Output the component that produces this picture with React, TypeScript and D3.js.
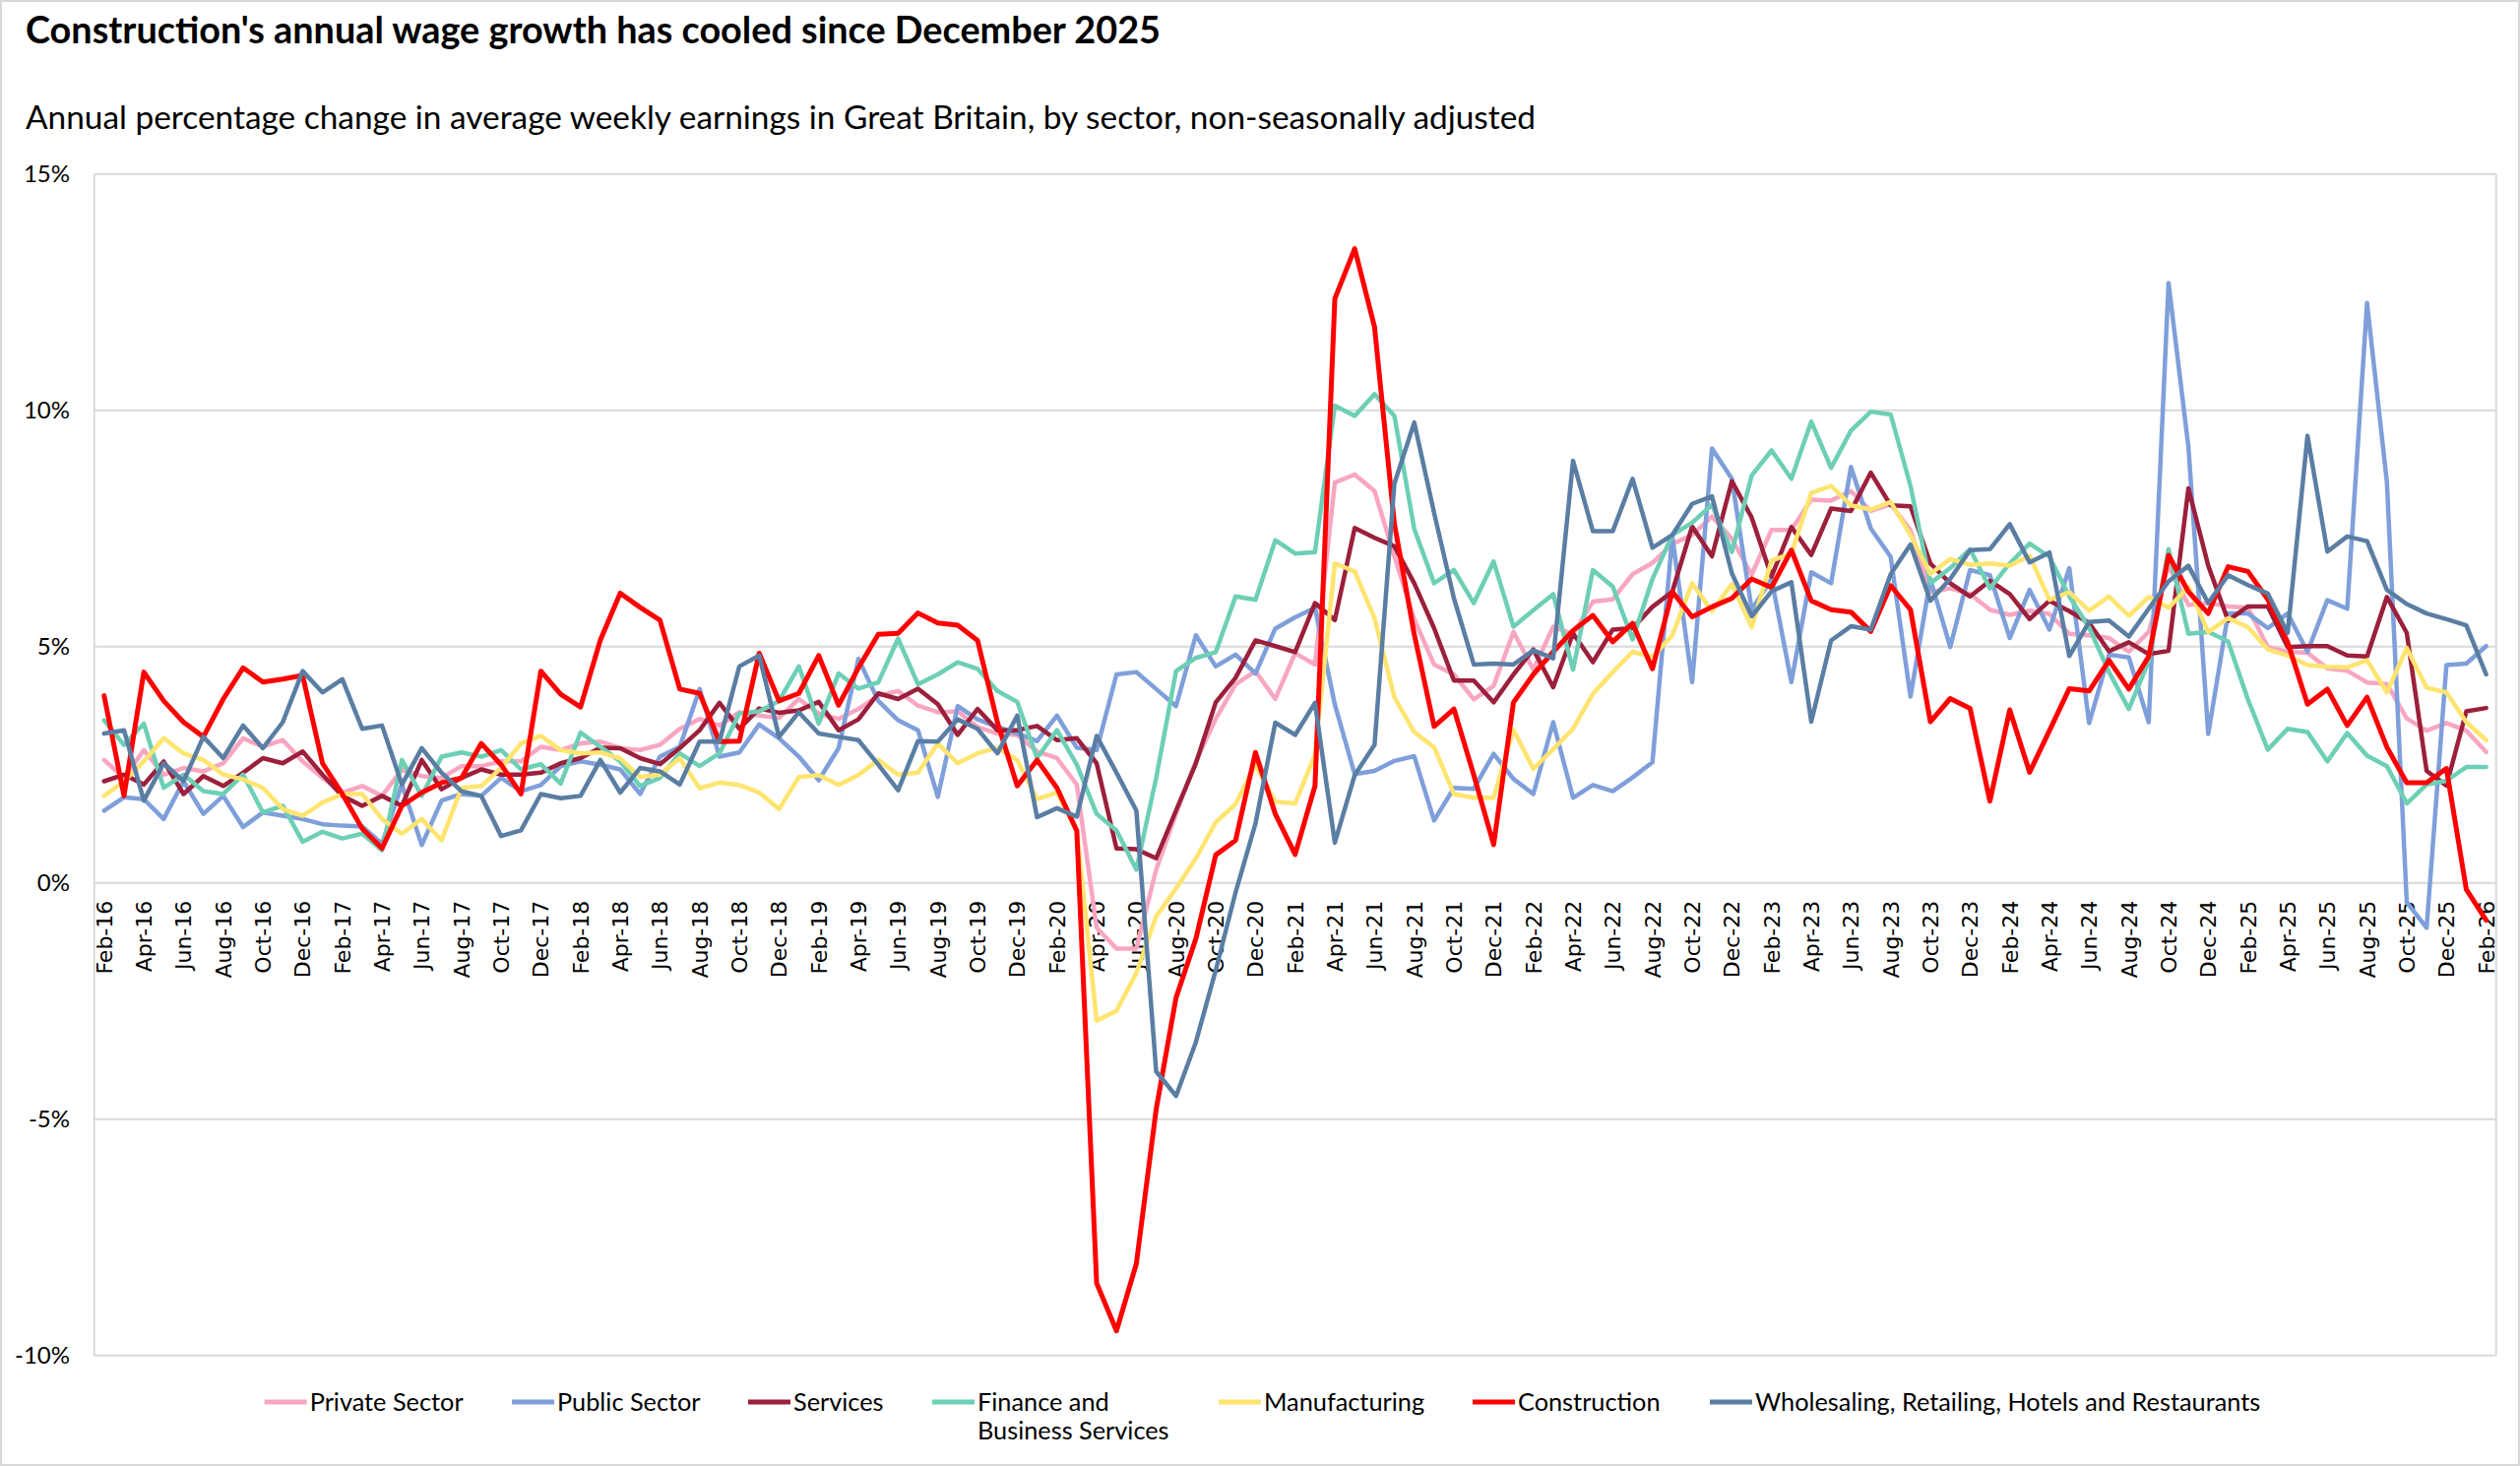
import { useRef, useEffect } from "react";
import * as d3 from "d3";

// monthly categories Feb-16 .. Feb-26
const firstMonth = new Date(2016, 1, 1);
const lastMonth = new Date(2026, 1, 1);
const months = d3.timeMonth
  .range(firstMonth, d3.timeMonth.offset(lastMonth, 1))
  .map(d3.timeFormat("%b-%y"));

const yTicks = [-10, -5, 0, 5, 10, 15];

const privateSector = [
  2.60, 2.22, 2.81, 2.29, 2.43, 2.36, 2.53, 3.06, 2.88, 3.02, 2.57, 2.22, 1.91, 2.05, 1.84, 2.40, 2.26, 2.22, 2.47, 2.47, 2.57,
  2.57, 2.88, 2.81, 2.95, 2.99, 2.85, 2.81, 2.92, 3.26, 3.47, 3.33, 3.61, 3.54, 3.49, 3.89, 3.58, 3.47, 3.68, 3.96, 4.06, 3.75,
  3.61, 3.63, 3.30, 3.16, 3.13, 2.78, 2.64, 2.08, -0.95, -1.39, -1.39, 0.28, 1.46, 2.57, 3.47, 4.20, 4.48, 3.89, 4.86, 4.62,
  8.47, 8.64, 8.29, 6.91, 5.58, 4.62, 4.41, 3.88, 4.17, 5.31, 4.51, 5.42, 5.26, 5.95, 6.0, 6.53, 6.77, 7.17, 7.36, 7.75, 7.28,
  6.52, 7.47, 7.47, 8.11, 8.09, 8.29, 7.87, 8.01, 7.46, 6.15, 6.23, 6.11, 5.78, 5.67, 5.76, 5.69, 5.27, 5.24, 5.18,
  4.89, 5.31, 6.71, 5.88, 5.92, 5.85, 5.82, 4.99, 4.89, 4.87, 4.54, 4.49, 4.24, 4.21, 3.48, 3.22, 3.38, 3.22, 2.77,
];

const publicSector = [
  1.53, 1.81, 1.77, 1.35, 2.15, 1.46, 1.84, 1.18, 1.49, 1.42, 1.35, 1.24, 1.21, 1.19, 0.83, 2.08, 0.80, 1.74, 1.88, 1.84, 2.22,
  1.94, 2.07, 2.47, 2.57, 2.5, 2.40, 1.88, 2.67, 2.88, 4.10, 2.67, 2.76, 3.35, 3.06, 2.67, 2.17, 2.85, 4.74, 3.85, 3.44, 3.23,
  1.82, 3.74, 3.46, 3.30, 3.16, 3.0, 3.54, 2.86, 2.81, 4.41, 4.46, 4.10, 3.74, 5.24, 4.58, 4.83, 4.43, 5.38, 5.62, 5.82,
  3.77, 2.30, 2.37, 2.58, 2.68, 1.32, 2.01, 1.99, 2.73, 2.20, 1.88, 3.40, 1.80, 2.07, 1.94, 2.23, 2.55, 7.33, 4.25, 9.19, 8.55,
  5.78, 6.43, 4.25, 6.57, 6.34, 8.80, 7.50, 6.90, 3.94, 6.43, 4.99, 6.62, 6.51, 5.18, 6.20, 5.36, 6.66, 3.38, 4.83,
  4.77, 3.40, 12.69, 9.23, 3.15, 5.70, 5.70, 5.39, 5.70, 4.89, 5.98, 5.80, 12.27, 8.48, -0.41, -0.95, 4.61, 4.64, 5.01,
];

const services = [
  2.15, 2.29, 2.08, 2.57, 1.88, 2.26, 2.05, 2.33, 2.64, 2.53, 2.78, 2.29, 1.84, 1.63, 1.84, 1.63, 2.60, 1.98, 2.22, 2.40, 2.29,
  2.29, 2.33, 2.53, 2.64, 2.86, 2.85, 2.64, 2.51, 2.85, 3.23, 3.81, 3.26, 3.69, 3.60, 3.65, 3.83, 3.23, 3.46, 4.01, 3.89, 4.11,
  3.78, 3.13, 3.68, 3.23, 3.23, 3.32, 3.02, 3.06, 2.53, 0.73, 0.71, 0.52, 1.53, 2.53, 3.82, 4.34, 5.13, 5.01, 4.88, 5.92,
  5.56, 7.51, 7.30, 7.12, 6.34, 5.39, 4.28, 4.28, 3.82, 4.41, 4.94, 4.14, 5.28, 4.67, 5.36, 5.39, 5.84, 6.16, 7.54, 6.91, 8.50,
  7.73, 6.48, 7.53, 6.94, 7.92, 7.87, 8.68, 7.99, 7.97, 6.76, 6.34, 6.06, 6.39, 6.11, 5.58, 5.97, 5.75, 5.5, 4.90,
  5.09, 4.84, 4.91, 8.35, 6.71, 5.55, 5.85, 5.85, 4.99, 5.01, 5.01, 4.81, 4.79, 6.05, 5.29, 2.37, 2.06, 3.63, 3.70,
];

const financeBusiness = [
  3.44, 2.92, 3.37, 2.01, 2.29, 1.94, 1.88, 2.29, 1.49, 1.63, 0.87, 1.08, 0.94, 1.04, 0.69, 2.60, 1.84, 2.67, 2.76, 2.67, 2.81,
  2.40, 2.51, 2.10, 3.18, 2.88, 2.57, 2.05, 2.22, 2.74, 2.47, 2.74, 3.58, 3.63, 3.85, 4.58, 3.37, 4.43, 4.11, 4.24, 5.17, 4.20,
  4.41, 4.67, 4.53, 4.06, 3.83, 2.64, 3.23, 2.5, 1.46, 1.11, 0.28, 2.22, 4.48, 4.76, 4.88, 6.06, 5.99, 7.25, 6.97, 7.0,
  10.1, 9.88, 10.34, 9.88, 7.49, 6.34, 6.62, 5.92, 6.80, 5.42, 5.77, 6.11, 4.51, 6.62, 6.27, 5.15, 6.43, 7.36, 7.62, 8.0, 7.0,
  8.62, 9.15, 8.55, 9.76, 8.78, 9.57, 9.97, 9.91, 8.40, 6.34, 6.66, 7.06, 6.23, 6.76, 7.18, 6.90, 6.06, 5.40, 4.46,
  3.68, 4.69, 7.06, 5.27, 5.31, 5.11, 3.88, 2.82, 3.26, 3.19, 2.57, 3.17, 2.69, 2.47, 1.68, 2.08, 2.16, 2.45, 2.45,
];

const manufacturing = [
  1.84, 2.15, 2.57, 3.06, 2.74, 2.60, 2.29, 2.19, 2.01, 1.56, 1.42, 1.70, 1.88, 1.88, 1.35, 1.04, 1.35, 0.90, 2.01, 2.05, 2.43,
  2.95, 3.11, 2.81, 2.74, 2.76, 2.63, 2.24, 2.29, 2.64, 2.0, 2.12, 2.07, 1.91, 1.56, 2.24, 2.28, 2.07, 2.28, 2.60, 2.29, 2.33,
  2.95, 2.53, 2.74, 2.86, 2.60, 1.77, 1.91, 1.11, -2.92, -2.71, -1.91, -0.71, -0.12, 0.52, 1.28, 1.67, 2.5, 1.72, 1.68, 2.71,
  6.76, 6.59, 5.60, 3.93, 3.19, 2.87, 1.88, 1.80, 1.80, 3.24, 2.41, 2.83, 3.26, 4.0, 4.46, 4.89, 4.78, 5.24, 6.34, 5.75, 6.32,
  5.41, 6.82, 6.97, 8.25, 8.40, 7.99, 7.90, 8.06, 7.36, 6.54, 6.85, 6.73, 6.76, 6.71, 6.92, 5.99, 6.15, 5.76, 6.06,
  5.65, 6.05, 5.82, 6.26, 5.31, 5.60, 5.41, 4.94, 4.81, 4.61, 4.57, 4.56, 4.71, 4.03, 4.97, 4.13, 4.03, 3.40, 3.02,
];

const construction = [
  3.96, 1.84, 4.46, 3.85, 3.40, 3.09, 3.89, 4.55, 4.25, 4.31, 4.39, 2.53, 1.88, 1.15, 0.73, 1.63, 1.91, 2.12, 2.22, 2.95, 2.5,
  1.88, 4.48, 3.99, 3.72, 5.14, 6.13, 5.83, 5.56, 4.10, 4.01, 2.99, 3.0, 4.86, 3.85, 4.01, 4.81, 3.76, 4.55, 5.26, 5.28, 5.71,
  5.5, 5.45, 5.13, 3.4, 2.05, 2.60, 2.01, 1.1, -8.47, -9.48, -8.06, -4.79, -2.43, -1.18, 0.59, 0.90, 2.76, 1.46, 0.6, 2.05,
  12.36, 13.42, 11.76, 7.6, 5.26, 3.31, 3.68, 2.28, 0.81, 3.82, 4.41, 4.89, 5.34, 5.66, 5.10, 5.49, 4.53, 6.16, 5.63, 5.84, 6.02,
  6.43, 6.25, 7.04, 5.97, 5.78, 5.73, 5.32, 6.29, 5.78, 3.41, 3.90, 3.69, 1.73, 3.66, 2.34, 3.22, 4.11, 4.06, 4.71,
  4.10, 4.79, 6.93, 6.16, 5.70, 6.69, 6.59, 6.0, 5.09, 3.78, 4.10, 3.33, 3.93, 2.87, 2.12, 2.12, 2.42, -0.14, -0.79,
];

const wholesaleRetail = [
  3.16, 3.23, 1.74, 2.53, 2.15, 3.09, 2.64, 3.33, 2.85, 3.40, 4.48, 4.03, 4.31, 3.26, 3.33, 2.08, 2.85, 2.33, 1.94, 1.84, 0.99,
  1.11, 1.88, 1.79, 1.84, 2.60, 1.91, 2.43, 2.36, 2.08, 2.99, 2.99, 4.58, 4.81, 3.09, 3.61, 3.16, 3.09, 3.02, 2.50, 1.96, 3.0,
  2.99, 3.46, 3.26, 2.74, 3.54, 1.39, 1.58, 1.40, 3.11, 2.33, 1.53, -3.99, -4.51, -3.37, -1.85, -0.2, 1.25, 3.39, 3.13, 3.81,
  0.85, 2.28, 2.92, 8.45, 9.74, 7.83, 6.02, 4.62, 4.64, 4.62, 4.92, 4.75, 8.93, 7.44, 7.44, 8.55, 7.09, 7.36, 8.02, 8.18, 6.55,
  5.64, 6.17, 6.36, 3.41, 5.13, 5.43, 5.36, 6.53, 7.16, 5.97, 6.43, 7.04, 7.06, 7.59, 6.78, 6.99, 4.80, 5.52, 5.55,
  5.21, 5.80, 6.38, 6.71, 5.92, 6.51, 6.30, 6.12, 5.29, 9.46, 7.01, 7.33, 7.23, 6.20, 5.90, 5.70, 5.58, 5.45, 4.41,
];

const seriesNames = [
  ["Private Sector"],
  ["Public Sector"],
  ["Services"],
  ["Finance and", "Business Services"],
  ["Manufacturing"],
  ["Construction"],
  ["Wholesaling, Retailing, Hotels and Restaurants"],
];
const seriesValues = [privateSector, publicSector, services, financeBusiness, manufacturing, construction, wholesaleRetail];
const seriesColors = ["#F8A6C1", "#7F9FDA", "#9C1F3B", "#6DCFB5", "#FFE46F", "#FF0000", "#5A7EA3"];

const App = () => {
  const svgRef = useRef(null);

  useEffect(() => {
    const svg = d3.select(svgRef.current);
    svg.selectAll("*").remove();

    const width = 2560;
    const height = 1489;
    const left = 95.7;
    const right = 2535.7;
    const top = 176.7;
    const bottom = 1376.7;
    const gridColor = "#D9D9D9";

    svg.attr("width", width).attr("height", height).style("display", "block");

    svg
      .append("rect")
      .attr("x", 1)
      .attr("y", 1)
      .attr("width", width - 2)
      .attr("height", height - 2)
      .attr("fill", "#fff")
      .attr("stroke", gridColor)
      .attr("stroke-width", 2);

    svg
      .append("text")
      .attr("x", 26)
      .attr("y", 44)
      .style("font-family", "Lato")
      .style("font-weight", "bold")
      .style("font-size", "37.8px")
      .attr("fill", "#000")
      .text("Construction's annual wage growth has cooled since December 2025");

    svg
      .append("text")
      .attr("x", 26)
      .attr("y", 131)
      .style("font-family", "Lato")
      .style("font-size", "33.4px")
      .attr("fill", "#000")
      .text("Annual percentage change in average weekly earnings in Great Britain, by sector, non-seasonally adjusted");

    const x = d3.scaleBand().domain(months).range([left, right]);
    const cx = (m) => x(m) + x.bandwidth() / 2;
    const y = d3.scaleLinear().domain([-10, 15]).range([bottom, top]);

    // gridlines
    svg
      .append("g")
      .selectAll("line")
      .data(yTicks)
      .enter()
      .append("line")
      .attr("x1", left)
      .attr("x2", right)
      .attr("y1", (d) => y(d))
      .attr("y2", (d) => y(d))
      .attr("stroke", gridColor)
      .attr("stroke-width", 2);

    [left, right].forEach((px) => {
      svg
        .append("line")
        .attr("x1", px)
        .attr("x2", px)
        .attr("y1", top)
        .attr("y2", bottom)
        .attr("stroke", gridColor)
        .attr("stroke-width", 2);
    });

    // y labels
    svg
      .append("g")
      .selectAll("text")
      .data(yTicks)
      .enter()
      .append("text")
      .attr("x", 71)
      .attr("y", (d) => y(d))
      .attr("dy", "0.35em")
      .attr("text-anchor", "end")
      .style("font-family", "Lato")
      .style("font-size", "24px")
      .attr("fill", "#000")
      .text((d) => `${d}%`);

    // x labels, every second month, hanging under the 0% line
    svg
      .append("g")
      .selectAll("text")
      .data(months.filter((_, i) => i % 2 === 0))
      .enter()
      .append("text")
      .attr("transform", (d) => `translate(${cx(d)},${y(0) + 18}) rotate(-90)`)
      .attr("dy", "0.36em")
      .attr("text-anchor", "end")
      .style("font-family", "DejaVu Sans")
      .style("font-size", "22px")
      .attr("fill", "#000")
      .text((d) => d);

    const line = d3
      .line()
      .x((d, i) => cx(months[i]))
      .y((d) => y(d));

    seriesValues.forEach((values, k) => {
      svg
        .append("path")
        .datum(values)
        .attr("d", line)
        .attr("fill", "none")
        .attr("stroke", seriesColors[k])
        .attr("stroke-width", k === 5 ? 5 : 4.5)
        .attr("stroke-linejoin", "round")
        .attr("stroke-linecap", "round");
    });

    // legend
    const legendX = [268.7, 520, 760, 947, 1238, 1496, 1737];
    const legend = svg.append("g");
    seriesNames.forEach((lines, k) => {
      const g = legend.append("g").attr("transform", `translate(${legendX[k]},0)`);
      g.append("line")
        .attr("x1", 0)
        .attr("x2", 43)
        .attr("y1", 1424)
        .attr("y2", 1424)
        .attr("stroke", seriesColors[k])
        .attr("stroke-width", 5);
      lines.forEach((t, j) => {
        g.append("text")
          .attr("x", 46)
          .attr("y", 1433 + j * 29)
          .style("font-family", "Lato")
          .style("font-size", "25.3px")
          .attr("fill", "#000")
          .text(t);
      });
    });
  }, []);

  return (
    <div style={{ position: "absolute", left: 0, top: 0 }}>
      <svg ref={svgRef}></svg>
    </div>
  );
};

export default App;
